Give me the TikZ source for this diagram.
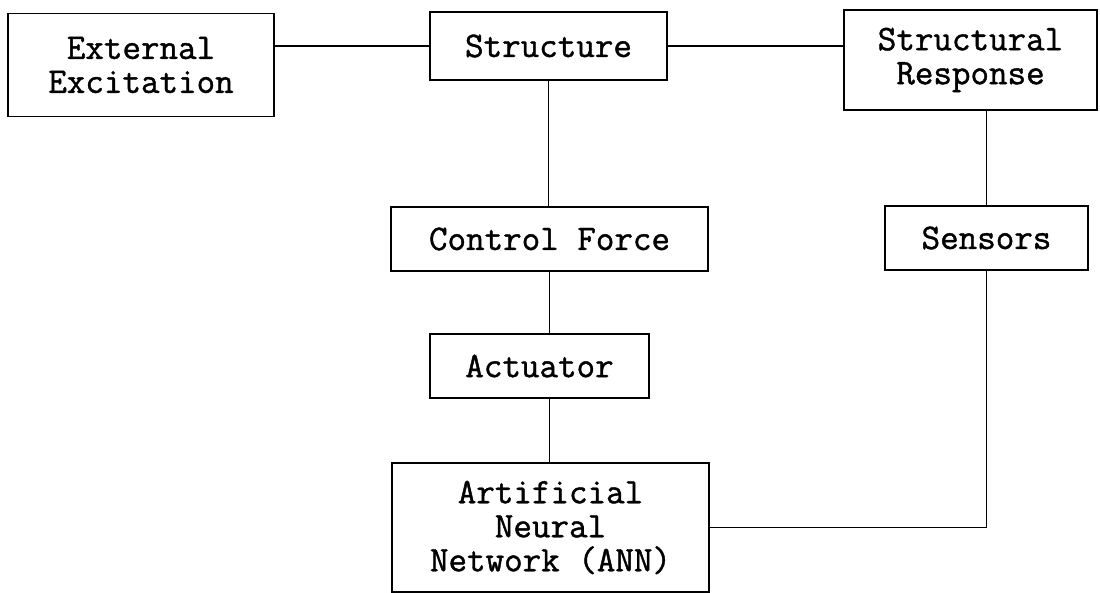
\documentclass[tikz,border=0pt]{standalone}
\usepackage{fontspec}
% typewriter face, slightly emboldened
\newfontfamily\boxfont[FakeBold=1.2]{Latin Modern Mono}
\begin{document}
\begin{tikzpicture}[x=1pt,y=-1pt,
  blk/.style={draw, line width=1.6pt, inner sep=0pt, align=center,
    font=\boxfont\bfseries\fontsize{36}{34}\selectfont},
  link/.style={line width=1.6pt}]
\useasboundingbox (0,0) rectangle (1100,593);
% blocks
\node[blk, minimum width=266, minimum height=103] (ext)  at (141,65)    {External\\Excitation};
\node[blk, minimum width=237, minimum height=68]  (str)  at (548.5,46)  {Structure};
\node[blk, minimum width=253, minimum height=100] (resp) at (970.5,60)  {Structural\\Response};
\node[blk, minimum width=317, minimum height=64]  (ctrl) at (549.5,239) {Control Force};
\node[blk, minimum width=203, minimum height=64]  (sens) at (986.5,238) {Sensors};
\node[blk, minimum width=219, minimum height=64]  (act)  at (539.5,366) {Actuator};
\node[blk, minimum width=317, minimum height=129] (ann)  at (550.5,527.5) {Artificial\\Neural\\Network (ANN)};
% connectors
\draw[link] (ext.east |- str.west) -- (str.west);
\draw[link] (str.east) -- (str.east -| resp.west);
\draw[link] (str.south) -- (str.south |- ctrl.north);
\draw[link] (ctrl.south) -- (ctrl.south |- act.north);
\draw[link] (ctrl.south |- act.south) -- (ctrl.south |- ann.north);
\draw[link] (resp.south -| sens.north) -- (sens.north);
\draw[link] (sens.south) |- (ann.east);
\end{tikzpicture}
\end{document}
